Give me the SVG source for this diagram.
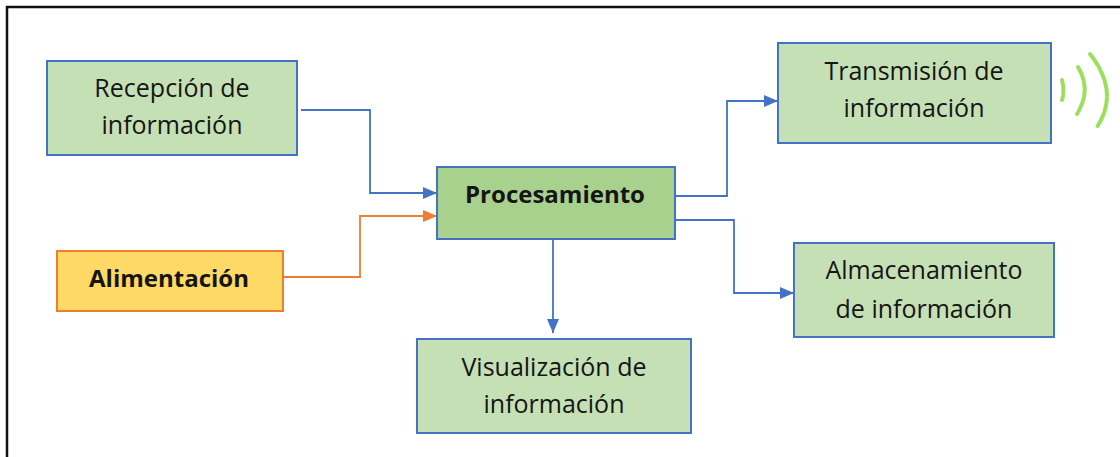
<svg xmlns="http://www.w3.org/2000/svg" width="1120" height="457" viewBox="0 0 1120 457">
<defs>
<style>
.box{fill:#C5E0B4;stroke:#4472C4;stroke-width:2}
.proc{fill:#A9D18E;stroke:#4472C4;stroke-width:2}
.pwr{fill:#FFD966;stroke:#ED7D31;stroke-width:2}
.t{font-family:"Open Sans","Liberation Sans",sans-serif;font-size:25px;fill:#151515;text-anchor:middle}
.b{font-weight:bold;font-size:24px}
.cb{fill:none;stroke:#4472C4;stroke-width:1.8}
.co{fill:none;stroke:#ED7D31;stroke-width:1.8}
.wave{fill:none;stroke:#9BE05A;stroke-width:4;stroke-linecap:round;stroke-dasharray:14 2}
</style>
<marker id="ab" markerWidth="14" markerHeight="12" refX="14" refY="6" orient="auto" markerUnits="userSpaceOnUse"><path d="M0,0 L14,6 L0,12 Z" fill="#4472C4"/></marker>
<marker id="ao" markerWidth="14" markerHeight="12" refX="14" refY="6" orient="auto" markerUnits="userSpaceOnUse"><path d="M0,0 L14,6 L0,12 Z" fill="#ED7D31"/></marker>
</defs>
<rect width="1120" height="457" fill="#fff"/>
<path d="M7,457 L7,7 L1120,7" fill="none" stroke="#111" stroke-width="2.5"/>
<g id="connectors">
<path class="cb" d="M301,110 H370 V193 H437" marker-end="url(#ab)"/>
<path class="co" d="M283,277 H360 V216 H437" marker-end="url(#ao)"/>
<path class="cb" d="M675,196 H727 V101 H778" marker-end="url(#ab)"/>
<path class="cb" d="M675,220 H734 V293 H794" marker-end="url(#ab)"/>
<path class="cb" d="M553,239 V333" marker-end="url(#ab)"/>
</g>
<g id="recepcion">
<rect class="box" x="47" y="61" width="250" height="94"/>
<text class="t" x="172" y="97">Recepción de</text>
<text class="t" x="172" y="134">información</text>
</g>
<g id="alimentacion">
<rect class="pwr" x="57" y="251" width="226" height="60"/>
<text class="t b" x="169" y="287">Alimentación</text>
</g>
<g id="procesamiento">
<rect class="proc" x="437" y="167" width="238" height="72"/>
<text class="t b" x="555" y="203">Procesamiento</text>
</g>
<g id="visualizacion">
<rect class="box" x="417" y="339" width="274" height="94"/>
<text class="t" x="554" y="376">Visualización de</text>
<text class="t" x="554" y="413">información</text>
</g>
<g id="transmision">
<rect class="box" x="778" y="43" width="273" height="100"/>
<text class="t" x="914" y="80">Transmisión de</text>
<text class="t" x="914" y="117">información</text>
</g>
<g id="almacenamiento">
<rect class="box" x="794" y="243" width="260" height="94"/>
<text class="t" x="924" y="279">Almacenamiento</text>
<text class="t" x="924" y="318">de información</text>
</g>
<g id="wireless">
<path class="wave" d="M1062,80 Q1065,90 1062,100" stroke-width="5"/>
<path class="wave" d="M1078,67 Q1092,90 1077,114"/>
<path class="wave" d="M1090,54 Q1120,92 1097,127"/>
</g>
</svg>
